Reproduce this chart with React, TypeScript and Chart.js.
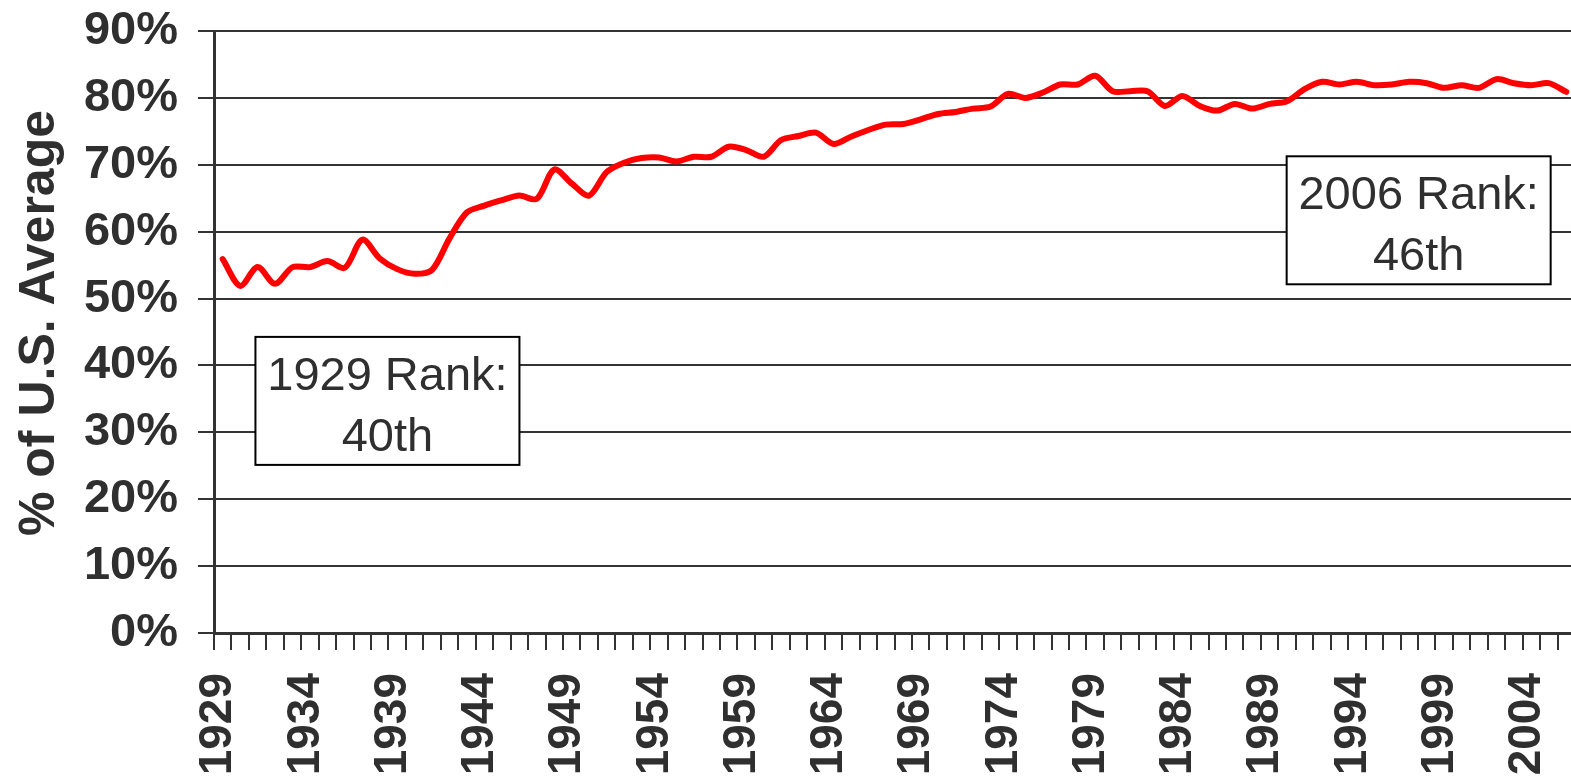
import React, { useEffect, useRef } from "react";
import { Chart, registerables } from "chart.js";

Chart.register(...registerables);

const years: string[] = [
  "1929","1930","1931","1932","1933","1934","1935","1936","1937","1938",
  "1939","1940","1941","1942","1943","1944","1945","1946","1947","1948",
  "1949","1950","1951","1952","1953","1954","1955","1956","1957","1958",
  "1959","1960","1961","1962","1963","1964","1965","1966","1967","1968",
  "1969","1970","1971","1972","1973","1974","1975","1976","1977","1978",
  "1979","1980","1981","1982","1983","1984","1985","1986","1987","1988",
  "1989","1990","1991","1992","1993","1994","1995","1996","1997","1998",
  "1999","2000","2001","2002","2003","2004","2005","2006",
];

const pctOfUSAverage: number[] = [
  55.9, 51.9, 54.7, 52.2, 54.7, 54.7, 55.6, 54.6, 58.8, 56.0,
  54.4, 53.7, 54.3, 59.0, 62.9, 63.9, 64.7, 65.4, 64.9, 69.3,
  67.2, 65.4, 68.9, 70.3, 71.0, 71.1, 70.5, 71.2, 71.2, 72.7,
  72.2, 71.2, 73.7, 74.3, 74.8, 73.1, 74.2, 75.2, 76.0, 76.1,
  76.8, 77.6, 77.9, 78.4, 78.7, 80.6, 80.0, 80.8, 82.0, 82.0,
  83.3, 81.0, 81.0, 81.0, 78.8, 80.3, 78.8, 78.1, 79.1, 78.4,
  79.1, 79.5, 81.3, 82.4, 82.0, 82.4, 81.9, 82.0, 82.4, 82.2,
  81.5, 81.9, 81.5, 82.8, 82.2, 81.9, 82.2, 80.9,
];

const yTickValues: number[] = [0, 10, 20, 30, 40, 50, 60, 70, 80, 90];

const yTitle = "% of U.S. Average";

const annotations = [
  { lines: ["1929 Rank:", "40th"], xIndex: 9.44, yValue: 34.7 },
  { lines: ["2006 Rank:", "46th"], xIndex: 68.54, yValue: 61.7 },
];

const FONT = 'Arial, "Liberation Sans", sans-serif';
const TEXT = "#2f2f2f";
const AXIS = "#333333";

const annotationPlugin = {
  id: "rankBoxes",
  afterDraw(chart: any) {
    const ctx = chart.ctx;
    const xs = chart.scales.x;
    const ys = chart.scales.y;
    const area = chart.chartArea;
    const w = 264;
    const h = 128;
    ctx.save();
    for (const a of annotations) {
      const cx = xs.getPixelForValue(a.xIndex);
      const cy = ys.getPixelForValue(a.yValue);
      const left = cx - w / 2;
      const top = cy - h / 2;
      ctx.fillStyle = "#ffffff";
      ctx.fillRect(left, top, w, h);
      ctx.lineWidth = 2;
      ctx.strokeStyle = "#000000";
      ctx.strokeRect(left, top, w, h);
      ctx.fillStyle = TEXT;
      ctx.font = `47px ${FONT}`;
      ctx.textAlign = "center";
      ctx.textBaseline = "alphabetic";
      ctx.fillText(a.lines[0], cx, top + 53);
      ctx.fillText(a.lines[1], cx, top + 114);
    }
    // y-axis title
    const ty = (area.top + area.bottom) / 2 - 9;
    ctx.translate(54, ty);
    ctx.rotate(-Math.PI / 2);
    ctx.fillStyle = TEXT;
    ctx.font = `bold 50px ${FONT}`;
    ctx.textAlign = "center";
    ctx.textBaseline = "alphabetic";
    ctx.fillText(yTitle, 0, 0);
    ctx.restore();
  },
};

function zeroPadding(scale: any) {
  scale.paddingTop = 0;
  scale.paddingBottom = 0;
  scale.paddingLeft = 0;
  scale.paddingRight = 0;
}

export default function App() {
  const canvasRef = useRef<HTMLCanvasElement | null>(null);

  useEffect(() => {
    if (!canvasRef.current) return;
    Chart.defaults.font.family = FONT;
    const chart = new Chart(canvasRef.current, {
      type: "line",
      data: {
        labels: years,
        datasets: [
          {
            data: pctOfUSAverage,
            borderColor: "#ff0000",
            backgroundColor: "#ff0000",
            borderWidth: 6,
            pointRadius: 0,
            pointHoverRadius: 0,
            tension: 0.3,
            borderJoinStyle: "round",
            borderCapStyle: "round",
            fill: false,
          },
        ],
      },
      options: {
        responsive: false,
        maintainAspectRatio: false,
        devicePixelRatio: 1,
        animation: false,
        events: [],
        layout: { padding: { top: 31, right: 25, bottom: 0, left: 0 } },
        plugins: {
          legend: { display: false },
          tooltip: { enabled: false },
          title: { display: false },
        },
        scales: {
          x: {
            type: "category",
            offset: true,
            afterFit(scale: any) {
              scale.height = 146;
              zeroPadding(scale);
            },
            grid: {
              display: true,
              offset: true,
              drawOnChartArea: false,
              drawTicks: true,
              tickLength: 17,
              color: AXIS,
              lineWidth: 2,
            },
            border: { display: true, color: AXIS, width: 3 },
            ticks: {
              autoSkip: false,
              maxRotation: 90,
              minRotation: 90,
              padding: 23,
              labelOffset: -4,
              color: TEXT,
              font: { family: FONT, size: 46, weight: "bold" },
              callback(_v: any, idx: number) {
                return idx % 5 === 0 ? years[idx] : "";
              },
            },
          },
          y: {
            min: 0,
            max: 90,
            afterFit(scale: any) {
              scale.width = 214;
              zeroPadding(scale);
            },
            afterBuildTicks(scale: any) {
              scale.ticks = yTickValues.map((v) => ({ value: v }));
            },
            grid: {
              color: AXIS,
              lineWidth: 2,
              drawTicks: true,
              tickLength: 16,
            },
            border: { display: true, color: AXIS, width: 3 },
            ticks: {
              padding: 20,
              color: TEXT,
              font: { family: FONT, size: 47, weight: "bold" },
              callback(v: any) {
                return `${v}%`;
              },
            },
            title: { display: false },
          },
        },
      },
      plugins: [annotationPlugin],
    });
    return () => chart.destroy();
  }, []);

  return (
    <div
      style={{
        position: "fixed",
        left: 0,
        top: 0,
        width: 1571,
        height: 779,
        overflow: "hidden",
        background: "#ffffff",
      }}
    >
      <canvas
        ref={canvasRef}
        width={1600}
        height={779}
        style={{ display: "block", width: 1600, height: 779 }}
      />
    </div>
  );
}
